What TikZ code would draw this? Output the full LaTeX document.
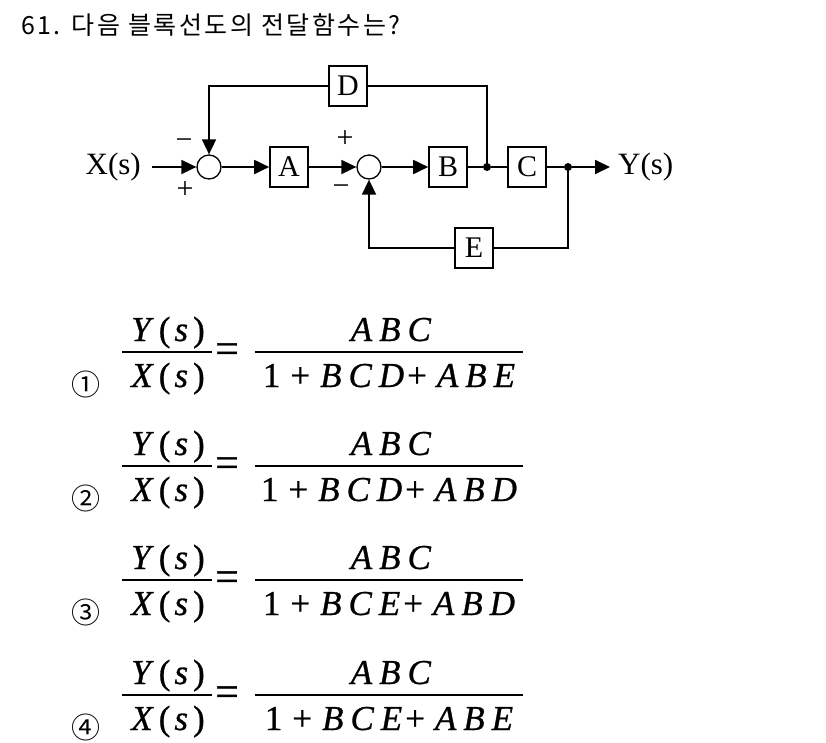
\documentclass[tikz,border=0pt]{standalone}
\usepackage{fontspec}
\setmainfont{Liberation Serif}
\newfontfamily\kr{Noto Sans CJK KR}
\newfontfamily\krt[LetterSpace=10]{Noto Sans CJK KR}
\newfontfamily\eqf[FakeBold=0.8]{Liberation Serif}
\usetikzlibrary{arrows.meta}
\newcommand\lk{\kern7pt}
\newcommand\pk{\kern10pt}
\newcommand\fracnum{\textit{Y}\kern5pt(\kern4pt\textit{s}\kern5pt)}
\newcommand\fracden{\textit{X}\kern5pt(\kern4pt\textit{s}\kern5pt)}
\newcommand\tri[3]{\textit{#1\lk #2\lk #3}}
\tikzset{
  blk/.style={draw, line width=1.6pt, minimum width=38pt, minimum height=40pt, inner sep=0pt,
    font=\fontsize{30}{34}\selectfont},
  sumc/.style={circle, draw, line width=1.3pt, minimum size=24pt, inner sep=0pt},
  jdot/.style={circle, fill, minimum size=8pt, inner sep=0pt},
  sig/.style={inner sep=0pt, font=\fontsize{30}{32}\selectfont},
  io/.style={inner sep=0pt, font=\fontsize{31}{34}\selectfont},
  wire/.style={line width=1.8pt},
  flow/.style={line width=1.8pt, -{Triangle[length=15pt,width=14pt]}},
  eqs/.style={inner sep=0pt, anchor=base, font=\eqf\fontsize{35}{38}\selectfont},
  eqsign/.style={inner sep=0pt, font=\eqf\fontsize{42}{44}\selectfont},
  barline/.style={line width=1.8pt},
  circnum/.style={inner sep=0pt, font=\kr\fontsize{29}{32}\selectfont},
}
\begin{document}
\begin{tikzpicture}[x=1pt,y=-1pt]
\useasboundingbox (0,0) rectangle (826,742);
% title
\node[anchor=base west, inner sep=0pt, font=\krt\fontsize{25}{29}\selectfont] (title) at (21,34) {61. 다음 블록선도의 전달함수는?};
% block diagram
\node[io, anchor=east] (xs) at (141,167) {X(s)};
\node[sumc] (s1) at (209,167) {};
\node[blk] (A) at (289,167) {A};
\node[sumc] (s2) at (369,167) {};
\node[blk] (B) at (448,167) {B};
\node[jdot] (d1) at (487,167) {};
\node[blk] (C) at (527,167) {C};
\node[jdot] (d2) at (568,167) {};
\node[io, anchor=west] (ys) at (618,167) {Y(s)};
\node[blk] (D) at (348,86) {D};
\node[blk] (E) at (474,248) {E};
\node[sig] (m1) at (184,144) {−};
\node[sig] (p1) at (185,190) {+};
\node[sig] (p2) at (345,139) {+};
\node[sig] (m2) at (341,190) {−};
\draw[flow, shorten <=11pt] (xs.east) -- (s1.west);
\draw[flow] (s1) -- (A);
\draw[flow] (A) -- (s2);
\draw[flow] (s2) -- (B);
\draw[wire] (B) -- (d1) -- (C) -- (d2);
\draw[flow, shorten >=8pt] (d2) -- (ys.west);
\draw[wire] (d1.center) |- (D.east);
\draw[flow] (D.west) -| (s1.north);
\draw[wire] (d2.center) |- (E.east);
\draw[flow] (E.west) -| (s2.south);
% answers
\foreach \b/\i/\c/\pa/\pb/\pc/\qa/\qb/\qc in {352/1/①/B/C/D/A/B/E, 466/2/②/B/C/D/A/B/D, 580/3/③/B/C/E/A/B/D, 695/4/④/B/C/E/A/B/E}{
  \node[eqs] (ln\i) at (168,\b-11) {\fracnum};
  \node[eqs] (ld\i) at (168,\b+35) {\fracden};
  \draw[barline] (122,\b) -- (212,\b);
  \node[eqsign] (eq\i) at (227,\b+1) {=};
  \draw[barline] (255,\b) -- (523,\b);
  \node[eqs] (rn\i) at (391,\b-11) {\tri{A}{B}{C}};
  \node[eqs] (rd\i) at (389,\b+35) {1\pk+\pk\tri{\pa}{\pb}{\pc}\kern3pt+\pk\tri{\qa}{\qb}{\qc}};
  \node[circnum] (c\i) at (86,\b+32) {\c};
}
\end{tikzpicture}
\end{document}
